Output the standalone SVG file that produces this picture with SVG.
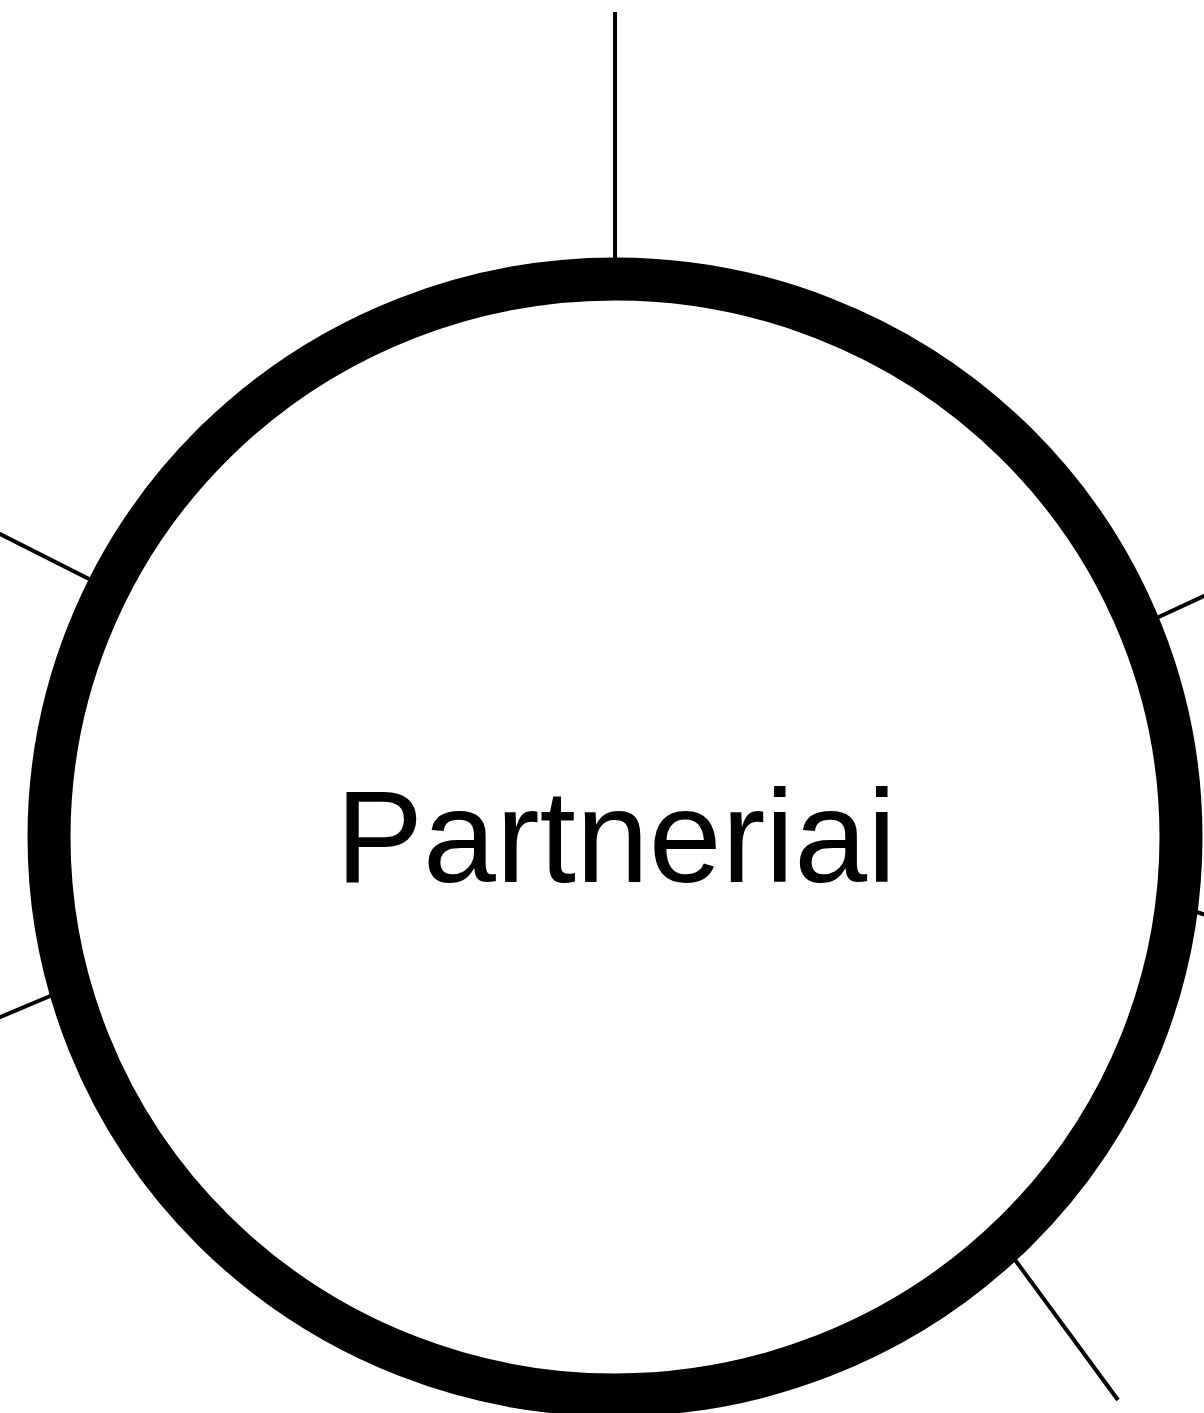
<svg xmlns="http://www.w3.org/2000/svg" width="1204" height="1413" viewBox="0 0 1204 1413">
<style>
.edge{stroke:#000;stroke-width:4;fill:none}
.node{fill:#fff;stroke:#000;stroke-width:43}
.label{font-family:"Liberation Sans",Arial,sans-serif;font-size:131px;fill:#000}
</style>
<rect width="1204" height="1413" fill="#fff"/>
<g id="connectors">
<line class="edge" x1="615" y1="12" x2="615" y2="270"/>
<line class="edge" x1="-2" y1="533" x2="95" y2="582"/>
<line class="edge" x1="-2" y1="1018" x2="55" y2="994"/>
<line class="edge" x1="1150" y1="621" x2="1206" y2="595"/>
<line class="edge" x1="1190" y1="910" x2="1206" y2="915"/>
<line class="edge" x1="1010" y1="1253" x2="1118" y2="1400"/>
</g>
<g id="node-partneriai">
<ellipse class="node" cx="615" cy="837" rx="566" ry="558"/>
<text class="label" x="616" y="882" text-anchor="middle">Partneriai</text>
</g>
</svg>
